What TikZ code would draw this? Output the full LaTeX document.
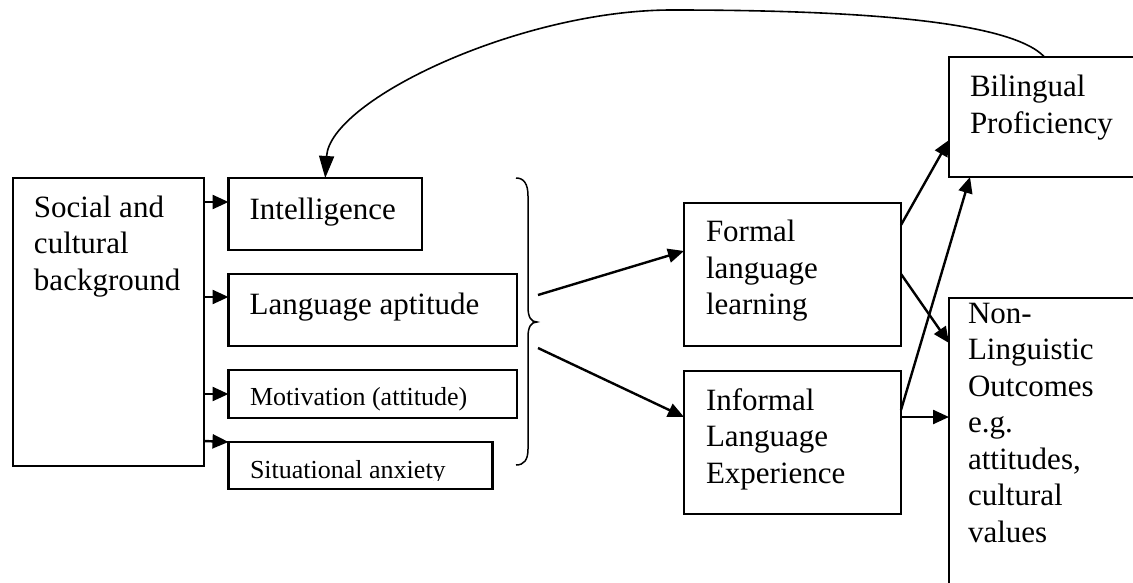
\documentclass[tikz,border=0pt]{standalone}
\usepackage{fontspec}
\setmainfont{Liberation Serif}
\usetikzlibrary{arrows.meta}
\newcommand{\capstrut}{\rule{0pt}{24pt}}
\begin{document}
\begin{tikzpicture}[x=1pt,y=-1pt,
  box/.style={draw, line width=2.4pt, inner sep=0pt, outer sep=0pt, anchor=north west},
  bigtxt/.style={inner sep=0pt, outer sep=0pt, align=left, font=\fontsize{31}{36.5}\selectfont},
  smalltxt/.style={inner sep=0pt, outer sep=0pt, font=\fontsize{26}{30}\selectfont},
  arr/.style={line width=2.4pt, -{Triangle[length=16pt,width=14pt]}},
  thinline/.style={line width=1.5pt},
  curvearr/.style={line width=1.6pt, -{Triangle[length=22pt,width=15pt]}}]
\useasboundingbox (0,0) rectangle (1133,583);
\fill[white] (0,0) rectangle (1133,583);
\clip (0,0) rectangle (1133,583);

% boxes
\node[box, minimum width=191.3pt, minimum height=288pt] (soc) at (12.7,178) {};
\node[box, minimum width=193.5pt, minimum height=72pt] (intel) at (228.5,178) {};
\node[box, minimum width=288.5pt, minimum height=72pt] (apt) at (228.5,274) {};
\node[box, minimum width=288.5pt, minimum height=48pt] (mot) at (228.5,370) {};
\node[box, minimum width=264pt, minimum height=47pt] (anx) at (228.5,442) {};
\node[box, minimum width=217pt, minimum height=143pt] (formal) at (684,203) {};
\node[box, minimum width=217pt, minimum height=143pt] (informal) at (684,371) {};
\node[box, minimum width=191pt, minimum height=120pt] (biling) at (949,57) {};
\node[box, minimum width=191pt, minimum height=300pt] (nonling) at (949,298) {};

% texts
\node[bigtxt, anchor=north west] (soctxt) at (34,193) {\capstrut Social and\\cultural\\background};
\node[bigtxt, anchor=base west] (inteltxt) at (249.6,219.3) {Intelligence};
\node[bigtxt, anchor=base west] (apttxt) at (249.6,314) {Language aptitude};
\node[smalltxt, anchor=base west] (mottxt) at (250,405) {Motivation (attitude)};
\begin{scope}
  \clip (anx.north west) rectangle (anx.east |- 0,480);
  \node[smalltxt, anchor=base west] (anxtxt) at (250,478.3) {Situational anxiety};
\end{scope}
\node[bigtxt, anchor=north west] (formaltxt) at (706,217.7) {\capstrut Formal\\language\\learning};
\node[bigtxt, anchor=north west] (informaltxt) at (706,386) {\capstrut Informal\\Language\\Experience};
\node[bigtxt, anchor=north west] (bilingtxt) at (970,72.7) {\capstrut Bilingual\\Proficiency};
\node[bigtxt, anchor=north west] (nonlingtxt) at (968,299.3) {\capstrut Non-\\Linguistic\\Outcomes\\e.g.\\attitudes,\\cultural\\values};

% background feeds the four learner factors
\draw[arr] (soc.east |- 0,202) -- (intel.west |- 0,202);
\draw[arr] (soc.east |- 0,297) -- (apt.west |- 0,297);
\draw[arr] (soc.east |- 0,394) -- (mot.west |- 0,394);
\draw[arr] (soc.east |- 0,441) -- (anx.north west);

% brace grouping the learner factors
\draw[thinline] (516,178) .. controls (524,178) and (528,184) .. (528,196)
  -- (528,307) .. controls (528,317) and (531,322) .. (537,322)
  .. controls (531,322) and (528,327) .. (528,337)
  -- (528,449) .. controls (528,460) and (524,465) .. (516,465);
\coordinate (brup) at (538,295);
\coordinate (brdown) at (538,348);

% learning contexts
\draw[arr] (brup) -- (formal.west |- 0,251);
\draw[arr] (brdown) -- (informal.west |- 0,417);

% outcomes
\draw[arr] (formal.east |- 0,225) -- (biling.west |- 0,140);
\draw[arr] (formal.east |- 0,274) -- (nonling.west |- 0,343);
\draw[arr] (informal.east |- 0,410) -- (biling.south -| 970,0);
\draw[arr] (informal.east |- 0,417) -- (nonling.west |- 0,417);

% feedback from proficiency to intelligence
\coordinate (crest) at (672,10);
\draw[curvearr] (biling.north) .. controls (1010,20) and (850,10) .. (crest)
  .. controls (520,10) and (330,100) .. (intel.north);
\end{tikzpicture}
\end{document}
